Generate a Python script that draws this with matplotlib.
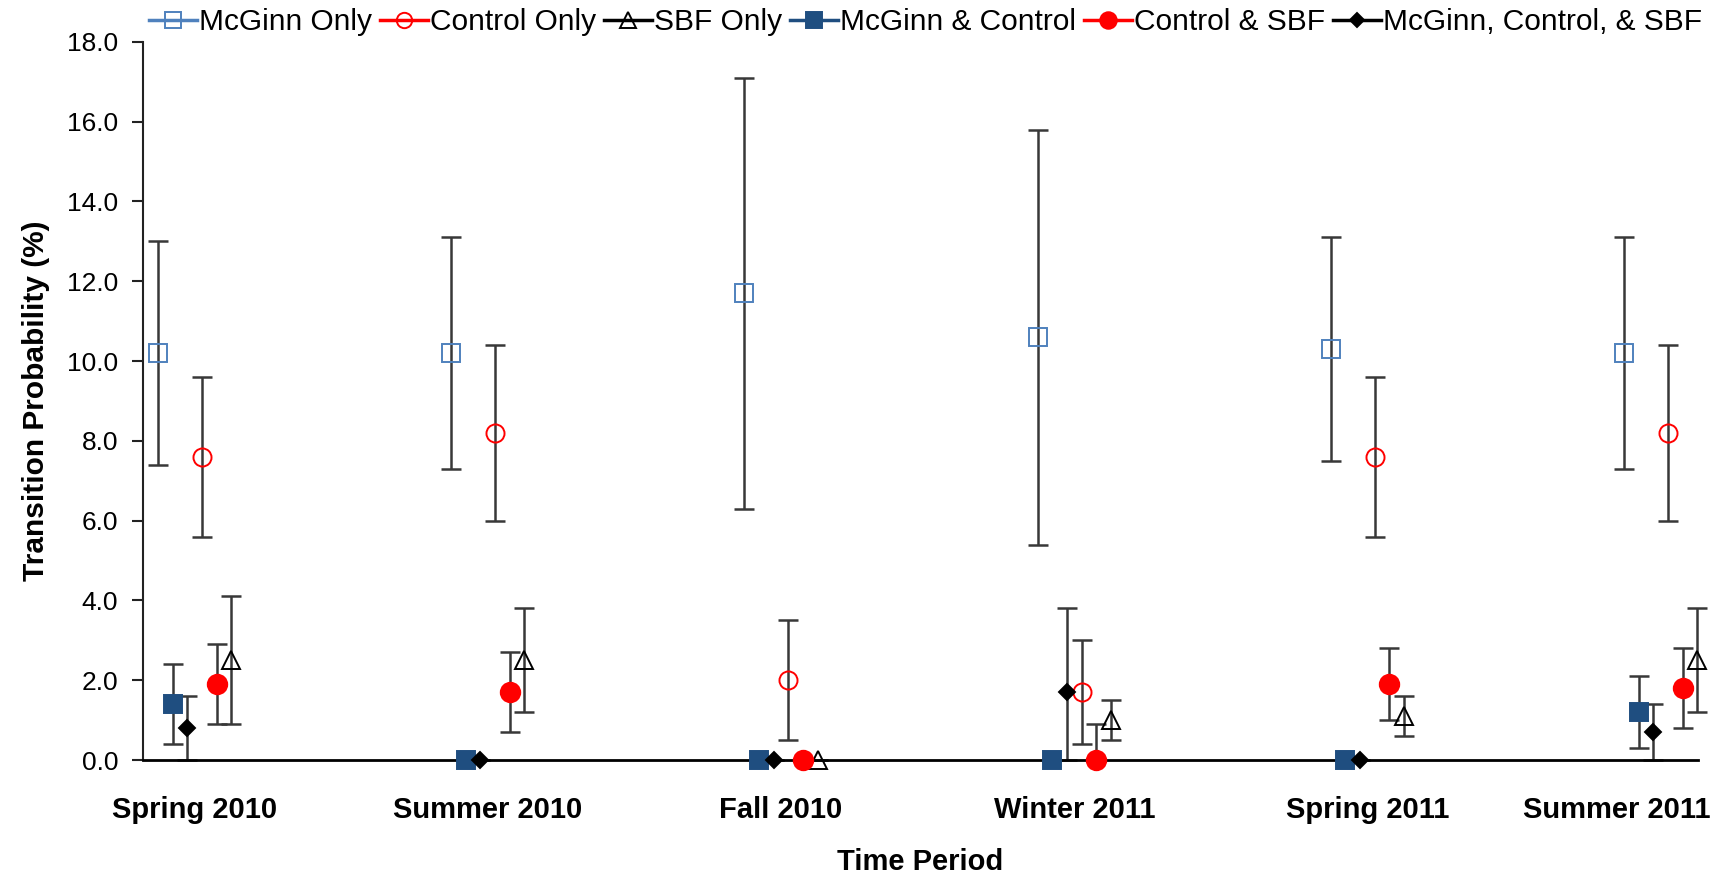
import matplotlib
matplotlib.use("Agg")
import matplotlib.pyplot as plt
import matplotlib.transforms as mtransforms
from matplotlib.lines import Line2D
import numpy as np

plt.rcParams['font.family'] = ['Liberation Sans', 'DejaVu Sans']

periods = ['Spring 2010', 'Summer 2010', 'Fall 2010', 'Winter 2011', 'Spring 2011', 'Summer 2011']

# transition probabilities (%) with lower / upper bounds of the error bars
mcginn_only = [10.2, 10.2, 11.7, 10.6, 10.3, 10.2]
mcginn_only_lo = [7.4, 7.3, 6.3, 5.4, 7.5, 7.3]
mcginn_only_hi = [13.0, 13.1, 17.1, 15.8, 13.1, 13.1]

control_only = [7.6, 8.2, 2.0, 1.7, 7.6, 8.2]
control_only_lo = [5.6, 6.0, 0.5, 0.4, 5.6, 6.0]
control_only_hi = [9.6, 10.4, 3.5, 3.0, 9.6, 10.4]

sbf_only = [2.5, 2.5, 0.0, 1.0, 1.1, 2.5]
sbf_only_lo = [0.9, 1.2, 0.0, 0.5, 0.6, 1.2]
sbf_only_hi = [4.1, 3.8, 0.0, 1.5, 1.6, 3.8]

mcginn_control = [1.4, 0.0, 0.0, 0.0, 0.0, 1.2]
mcginn_control_lo = [0.4, 0.0, 0.0, 0.0, 0.0, 0.3]
mcginn_control_hi = [2.4, 0.0, 0.0, 0.0, 0.0, 2.1]

control_sbf = [1.9, 1.7, 0.0, 0.0, 1.9, 1.8]
control_sbf_lo = [0.9, 0.7, 0.0, 0.0, 1.0, 0.8]
control_sbf_hi = [2.9, 2.7, 0.0, 0.9, 2.8, 2.8]

all_three = [0.8, 0.0, 0.0, 1.7, 0.0, 0.7]
all_three_lo = [0.0, 0.0, 0.0, 0.0, 0.0, 0.0]
all_three_hi = [1.6, 0.0, 0.0, 3.8, 0.0, 1.4]

BLUE = '#4f81bd'
NAVY = '#1f4e80'
RED = '#ff0000'
ERR = '#383838'

# (label, values, lo, hi, x offset, marker, colour, filled, size)
series = [
    ('McGinn Only', mcginn_only, mcginn_only_lo, mcginn_only_hi, -2.5, 's', BLUE, False, 13),
    ('Control Only', control_only, control_only_lo, control_only_hi, 0.5, 'o', RED, False, 13),
    ('SBF Only', sbf_only, sbf_only_lo, sbf_only_hi, 2.5, '^', 'black', False, 13),
    ('McGinn & Control', mcginn_control, mcginn_control_lo, mcginn_control_hi, -1.5, 's', NAVY, True, 13),
    ('Control & SBF', control_sbf, control_sbf_lo, control_sbf_hi, 1.5, 'o', RED, True, 14),
    ('McGinn, Control, & SBF', all_three, all_three_lo, all_three_hi, -0.5, 'D', 'black', True, 8.5),
]

fig = plt.figure(figsize=(17.25, 8.77), dpi=100)
ax = fig.add_axes([0.0829, 0.1334, 0.9014, 0.8189])

x = np.arange(1, len(periods) + 1)
step = 0.05
handles = []
for i, (label, vals, lo, hi, off, mk, col, filled, ms) in enumerate(series):
    vals = np.array(vals)
    yerr = [vals - np.array(lo), np.array(hi) - vals]
    xs = x + off * step
    ax.errorbar(xs, vals, yerr=yerr, fmt='none', ecolor=ERR, elinewidth=1.8,
                capsize=7, capthick=1.8, zorder=2 + i * 0.1, clip_on=False)
    fc = col if filled else 'none'
    ax.plot(xs, vals, linestyle='none', marker=mk, markersize=ms,
            markerfacecolor=fc, markeredgecolor=col, markeredgewidth=1.4,
            zorder=3 + i * 0.1, clip_on=False)
    handles.append(Line2D([], [], color=col, lw=2.5, marker=mk, markersize=ms * 0.85,
                          markerfacecolor=fc, markeredgecolor=col, markeredgewidth=1.4))

ax.set_xlim(0.824, 6.127)
ax.set_ylim(0, 18)
ax.set_yticks(np.arange(0, 18.1, 2))
ax.set_yticklabels(['%.1f' % v for v in np.arange(0, 18.1, 2)], fontsize=19)
ax.set_xticks(x)
ax.set_xticklabels(periods, fontsize=21, fontweight='bold')
ax.tick_params(axis='x', length=0, pad=26)
ax.tick_params(axis='y', direction='out', length=8, width=1.5, color='#222222', pad=10)

# last period label sits pulled in from the right edge
last = ax.get_xticklabels()[-1]
last.set_transform(last.get_transform() + mtransforms.ScaledTranslation(-0.44, 0, fig.dpi_scale_trans))

for s in ['top', 'right']:
    ax.spines[s].set_visible(False)
ax.spines['left'].set_linewidth(1.5)
ax.spines['left'].set_color('#222222')
ax.spines['bottom'].set_linewidth(2.0)
ax.spines['bottom'].set_color('black')

ax.set_xlabel('Time Period', fontsize=21, fontweight='bold', labelpad=17)
ax.set_ylabel('Transition Probability (%)', fontsize=21.5, fontweight='bold', labelpad=12)

fig.legend(handles, [s[0] for s in series], loc='center left', bbox_to_anchor=(149 / 1725, 1 - 22 / 877),
           ncol=6, frameon=False, fontsize=21.5, handlelength=1.62, handletextpad=0.05,
           columnspacing=0.27, borderpad=0, borderaxespad=0)

fig.savefig('out.png', dpi=100)
